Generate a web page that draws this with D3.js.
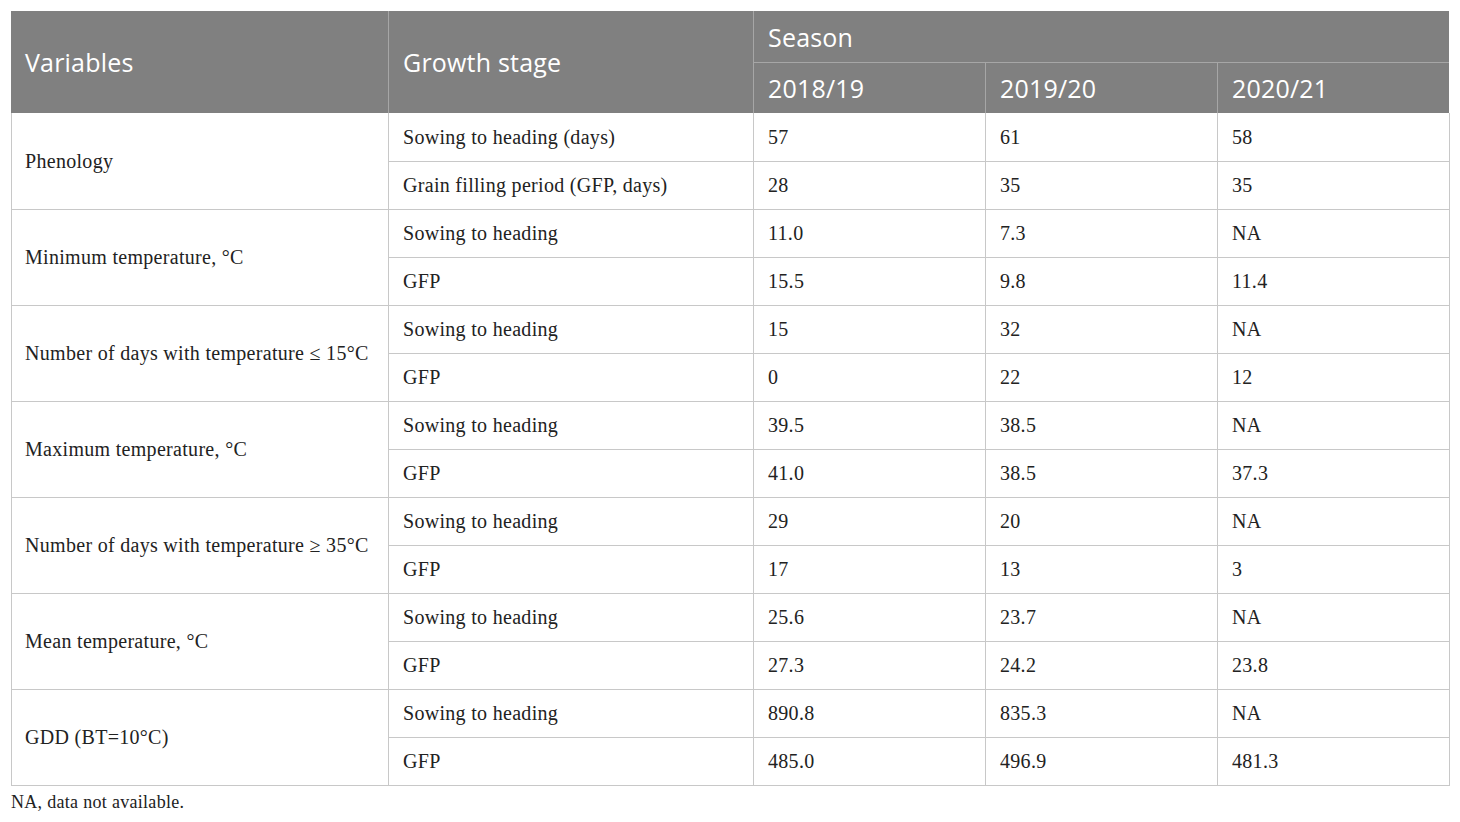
<!DOCTYPE html>
<html><head><meta charset="utf-8">
<script src="https://cdn.jsdelivr.net/npm/d3@7"></script>
<style>html,body{margin:0;padding:0;background:#fff}</style>
</head><body>
<svg id="c" width="1460" height="822"></svg>
<script>
const variables = ["Phenology","Minimum temperature, °C","Number of days with temperature ≤ 15°C","Maximum temperature, °C","Number of days with temperature ≥ 35°C","Mean temperature, °C","GDD (BT=10°C)"];
const stages = [
  ["Sowing to heading (days)","Grain filling period (GFP, days)"],
  ["Sowing to heading","GFP"],["Sowing to heading","GFP"],["Sowing to heading","GFP"],
  ["Sowing to heading","GFP"],["Sowing to heading","GFP"],["Sowing to heading","GFP"]
];
const seasons = ["2018/19","2019/20","2020/21"];
const s2018 = ["57","28","11.0","15.5","15","0","39.5","41.0","29","17","25.6","27.3","890.8","485.0"];
const s2019 = ["61","35","7.3","9.8","32","22","38.5","38.5","20","13","23.7","24.2","835.3","496.9"];
const s2020 = ["58","35","NA","11.4","NA","12","NA","37.3","NA","3","NA","23.8","NA","481.3"];
const headers = ["Variables","Growth stage","Season"];
const footnote = "NA, data not available.";

const svg = d3.select("#c");
const colEdges = [11,388,753,985,1217,1449];
const headTop = 11, headMid = 62, bodyTop = 113;
const nRows = s2018.length;
const y = d3.scaleBand().domain(d3.range(nRows)).range([bodyTop, bodyTop + nRows*48]).paddingInner(0).paddingOuter(0);
const bodyBottom = bodyTop + nRows*48;
const serif = "'Liberation Serif','DejaVu Serif',serif";
const sans = "'Open Sans','Noto Sans',sans-serif";
const headFill = "#808080", lineC = "#c8c8c8";

svg.append("rect").attr("x",colEdges[0]).attr("y",headTop).attr("width",colEdges[5]-colEdges[0]).attr("height",bodyTop-headTop).attr("fill",headFill);
const hl = "#a6a6a6";
svg.append("line").attr("x1",colEdges[1]+0.5).attr("x2",colEdges[1]+0.5).attr("y1",headTop).attr("y2",bodyTop).attr("stroke",hl);
svg.append("line").attr("x1",colEdges[2]+0.5).attr("x2",colEdges[2]+0.5).attr("y1",headTop).attr("y2",bodyTop).attr("stroke",hl);
svg.append("line").attr("x1",colEdges[2]).attr("x2",colEdges[5]).attr("y1",headMid+0.5).attr("y2",headMid+0.5).attr("stroke",hl);
[3,4].forEach(i=>svg.append("line").attr("x1",colEdges[i]+0.5).attr("x2",colEdges[i]+0.5).attr("y1",headMid).attr("y2",bodyTop).attr("stroke",hl));

const ht = (t,x,yy)=>svg.append("text").attr("x",x).attr("y",yy).attr("fill","#fff").attr("font-family",sans).attr("font-size",25).attr("letter-spacing",0.2).attr("dominant-baseline","central").text(t);
ht(headers[0], colEdges[0]+14, (headTop+bodyTop)/2);
ht(headers[1], colEdges[1]+15, (headTop+bodyTop)/2);
ht(headers[2], colEdges[2]+15, (headTop+headMid)/2);
seasons.forEach((s,i)=>ht(s, colEdges[2+i]+15, (headMid+bodyTop)/2));

const g = svg.append("g");
d3.range(1, nRows+1).forEach(r=>{
  const yy = r===nRows ? bodyBottom : y(r);
  const x1 = (r%2===1) ? colEdges[1] : colEdges[0];
  g.append("line").attr("x1",x1).attr("x2",colEdges[5]).attr("y1",yy+0.5).attr("y2",yy+0.5).attr("stroke",lineC);
});
colEdges.forEach(x=>g.append("line").attr("x1",x+0.5).attr("x2",x+0.5).attr("y1",bodyTop).attr("y2",bodyBottom+1).attr("stroke",lineC));

const bt = (t,x,yy)=>g.append("text").attr("x",x).attr("y",yy).attr("fill","#222").attr("font-family",serif).attr("font-size",20).attr("letter-spacing",0.3).attr("dominant-baseline","central").text(t);
variables.forEach((v,i)=>bt(v, colEdges[0]+14, y(2*i)+48));
stages.forEach((p,i)=>p.forEach((s,j)=>bt(s, colEdges[1]+15, y(2*i+j)+24)));
[s2018,s2019,s2020].forEach((arr,k)=>arr.forEach((v,r)=>bt(v, colEdges[2+k]+15, y(r)+24)));

svg.append("text").attr("x",11).attr("y",802).attr("fill","#222").attr("font-family",serif).attr("font-size",18).attr("letter-spacing",0.3).attr("dominant-baseline","central").text(footnote);
</script>
</body></html>
